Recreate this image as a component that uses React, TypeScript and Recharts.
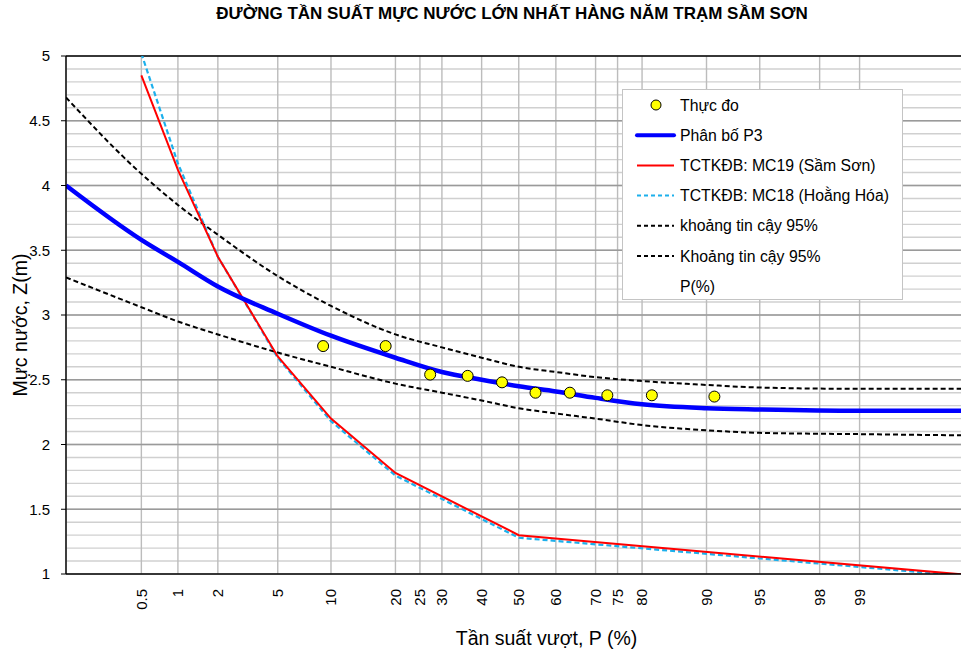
import React from "react";
import { ComposedChart, Line, Scatter, XAxis, YAxis, CartesianGrid, ReferenceLine } from "recharts";

// tick labels on the probability axis (%)
const probTicks = [0.5, 1, 2, 5, 10, 20, 25, 30, 40, 50, 60, 70, 75, 80, 90, 95, 98, 99];

// observed annual max water level
const obsP = [9.09, 18.18, 27.27, 36.36, 45.45, 54.55, 63.64, 72.73, 81.82, 90.91];
const obsZ = [2.76, 2.76, 2.54, 2.53, 2.48, 2.4, 2.4, 2.38, 2.38, 2.37];

// Pearson III curve + 95% confidence band
const curveP = [0.1, 0.5, 1, 2, 5, 10, 20, 30, 40, 50, 60, 70, 80, 90, 95, 99, 99.9];
const p3Z = [4.0, 3.58, 3.41, 3.22, 3.01, 2.84, 2.67, 2.56, 2.5, 2.45, 2.41, 2.36, 2.31, 2.28, 2.27, 2.26, 2.26];
const upperZ = [4.68, 4.09, 3.85, 3.62, 3.3, 3.07, 2.85, 2.75, 2.67, 2.6, 2.56, 2.52, 2.49, 2.46, 2.44, 2.43, 2.43];
const lowerZ = [3.29, 3.06, 2.95, 2.85, 2.71, 2.6, 2.47, 2.4, 2.34, 2.28, 2.24, 2.2, 2.15, 2.11, 2.09, 2.08, 2.07];

// TCTKĐB stations
const stationP = [0.5, 1, 2, 5, 10, 20, 50, 99.9];
const mc19Z = [4.85, 4.12, 3.45, 2.68, 2.2, 1.78, 1.3, 0.99];
const mc18Z = [5.02, 4.17, 3.45, 2.67, 2.18, 1.76, 1.28, 0.98];

const yMajor = [1, 1.5, 2, 2.5, 3, 3.5, 4, 4.5, 5];

// inverse normal cdf (probability paper scale)
function probit(p: number) {
  const a = [-39.69683028665376, 220.9460984245205, -275.9285104469687, 138.357751867269, -30.66479806614716, 2.506628277459239];
  const b = [-54.47609879822406, 161.5858368580409, -155.6989798598866, 66.80131188771972, -13.28068155288572];
  const c = [-0.007784894002430293, -0.3223964580411365, -2.400758277161838, -2.549732539343734, 4.374664141464968, 2.938163982698783];
  const d = [0.007784695709041462, 0.3224671290700398, 2.445134137142996, 3.754408661907416];
  const lo = 0.02425;
  if (p < lo) {
    const q = Math.sqrt(-2 * Math.log(p));
    return (((((c[0] * q + c[1]) * q + c[2]) * q + c[3]) * q + c[4]) * q + c[5]) / ((((d[0] * q + d[1]) * q + d[2]) * q + d[3]) * q + 1);
  }
  if (p > 1 - lo) {
    const q = Math.sqrt(-2 * Math.log(1 - p));
    return -(((((c[0] * q + c[1]) * q + c[2]) * q + c[3]) * q + c[4]) * q + c[5]) / ((((d[0] * q + d[1]) * q + d[2]) * q + d[3]) * q + 1);
  }
  const q = p - 0.5;
  const r = q * q;
  return ((((((a[0] * r + a[1]) * r + a[2]) * r + a[3]) * r + a[4]) * r + a[5]) * q) / (((((b[0] * r + b[1]) * r + b[2]) * r + b[3]) * r + b[4]) * r + 1);
}

const toRows = (ps: number[], vs: number[]) => ps.map((p, i) => ({ z: probit(p / 100), v: vs[i] }));

const obsData = toRows(obsP, obsZ);
const p3Data = toRows(curveP, p3Z);
const upperData = toRows(curveP, upperZ);
const lowerData = toRows(curveP, lowerZ);
const mc19Data = toRows(stationP, mc19Z);
const mc18Data = toRows(stationP, mc18Z);

const xTicks = probTicks.map((p) => probit(p / 100));
const yTicks = Array.from({ length: 41 }, (_, i) => Math.round((1 + i * 0.1) * 10) / 10);

const FONT = 'Arial, "Liberation Sans", sans-serif';

const XTick = ({ x, payload }: any) => (
  <text x={x} y={589} transform={`rotate(-90 ${x} 589)`} textAnchor="end" dy="0.35em" fontSize={15} fill="#000" fontFamily={FONT}>
    {probTicks[payload.index]}
  </text>
);

const YTick = ({ y, payload }: any) => {
  const v = payload.value;
  if (!yMajor.some((m) => Math.abs(m - v) < 1e-6)) return <g />;
  return (
    <g>
      <line x1={61} x2={66} y1={y} y2={y} stroke="#000" />
      <text x={50} y={y} dy="0.35em" textAnchor="end" fontSize={15} fill="#000" fontFamily={FONT}>{v}</text>
    </g>
  );
};

const legendRows = [
  { name: "Thực đo", kind: "dot" },
  { name: "Phân bố P3", kind: "line", color: "#0000ff", width: 4, dash: undefined },
  { name: "TCTKĐB: MC19 (Sầm Sơn)", kind: "line", color: "#ff0000", width: 2, dash: undefined },
  { name: "TCTKĐB: MC18 (Hoằng Hóa)", kind: "line", color: "#1cb0ec", width: 2, dash: "4 3" },
  { name: "khoảng tin cậy 95%", kind: "line", color: "#000", width: 2, dash: "4 3" },
  { name: "Khoảng tin cậy 95%", kind: "line", color: "#000", width: 2, dash: "4 3" },
  { name: "P(%)", kind: "none" },
];

function ChartLegend() {
  return (
    <div style={{ position: "absolute", left: 622, top: 89, width: 281, height: 211, border: "1px solid #c4c4c4", background: "#fff", boxSizing: "border-box" }}>
      <svg width={281} height={211} style={{ position: "absolute", left: 0, top: 0 }}>
        {legendRows.map((r: any, i) => {
          const cy = 15 + i * 30.2;
          return (
            <g key={i}>
              {r.kind === "dot" && <circle cx={33} cy={cy} r={5} fill="#ffff00" stroke="#000" />}
              {r.kind === "line" && (
                <line x1={14} x2={51} y1={cy} y2={cy} stroke={r.color} strokeWidth={r.width} strokeDasharray={r.dash} strokeLinecap={r.width > 2 ? "round" : "butt"} />
              )}
              <text x={57} y={cy} dy="0.35em" fontSize={15.8} fontFamily={FONT} fill="#000">{r.name}</text>
            </g>
          );
        })}
      </svg>
    </div>
  );
}

export default function App() {
  return (
    <div style={{ position: "fixed", left: 0, top: 0, width: 961, height: 653, overflow: "hidden", background: "#fff", fontFamily: FONT }}>
      <div style={{ position: "absolute", left: 0, top: 5, width: 1024, textAlign: "center", fontWeight: "bold", fontSize: 17, lineHeight: "18px", color: "#000" }}>
        ĐƯỜNG TẦN SUẤT MỰC NƯỚC LỚN NHẤT HÀNG NĂM TRẠM SẦM SƠN
      </div>
      <ComposedChart width={980} height={653} margin={{ top: 56, right: 8.5, bottom: 0, left: 0 }}>
        <CartesianGrid vertical={false} stroke="#d0d0d0" strokeWidth={1.4} />
        <CartesianGrid horizontal={false} stroke="#bcbcbc" strokeWidth={1.4} />
        {yMajor.slice(1, -1).map((m) => (
          <ReferenceLine key={m} y={m} stroke="#9a9a9a" strokeWidth={1.4} />
        ))}
        <ReferenceLine y={5} stroke="#000" strokeWidth={1.4} />
        <XAxis
          dataKey="z"
          type="number"
          domain={[probit(0.001), probit(0.999)]}
          ticks={xTicks}
          interval={0}
          allowDataOverflow
          height={79}
          tickLine={false}
          axisLine={{ stroke: "#000", strokeWidth: 1.4 }}
          tick={<XTick />}
        />
        <YAxis
          dataKey="v"
          type="number"
          domain={[1, 5]}
          ticks={yTicks}
          interval={0}
          allowDataOverflow
          width={66}
          tickLine={false}
          axisLine={{ stroke: "#000", strokeWidth: 1.4 }}
          tick={<YTick />}
        />
        <Line data={upperData} dataKey="v" type="monotone" stroke="#000" strokeWidth={2} strokeDasharray="5 3" dot={false} isAnimationActive={false} />
        <Line data={lowerData} dataKey="v" type="monotone" stroke="#000" strokeWidth={2} strokeDasharray="5 3" dot={false} isAnimationActive={false} />
        <Line data={mc18Data} dataKey="v" type="linear" stroke="#1cb0ec" strokeWidth={2.2} strokeDasharray="5 3" dot={false} isAnimationActive={false} />
        <Line data={mc19Data} dataKey="v" type="linear" stroke="#ff0000" strokeWidth={2} dot={false} isAnimationActive={false} />
        <Line data={p3Data} dataKey="v" type="monotone" stroke="#0000ff" strokeWidth={4.5} dot={false} isAnimationActive={false} />
        <Scatter
          data={obsData}
          dataKey="v"
          isAnimationActive={false}
          shape={(p: any) => <circle cx={p.cx} cy={p.cy} r={5.5} fill="#ffff00" stroke="#000" strokeWidth={1} />}
        />
      </ComposedChart>
      <ChartLegend />
      <div style={{ position: "absolute", left: 0, top: 629, width: 1093, textAlign: "center", fontSize: 19.5, lineHeight: "19px", color: "#000" }}>
        Tần suất vượt, P (%)
      </div>
      <div style={{ position: "absolute", left: 20 - 110, top: 325 - 11, width: 220, height: 22, lineHeight: "22px", textAlign: "center", fontSize: 19.5, color: "#000", transform: "rotate(-90deg)" }}>
        Mực nước, Z(m)
      </div>
    </div>
  );
}
